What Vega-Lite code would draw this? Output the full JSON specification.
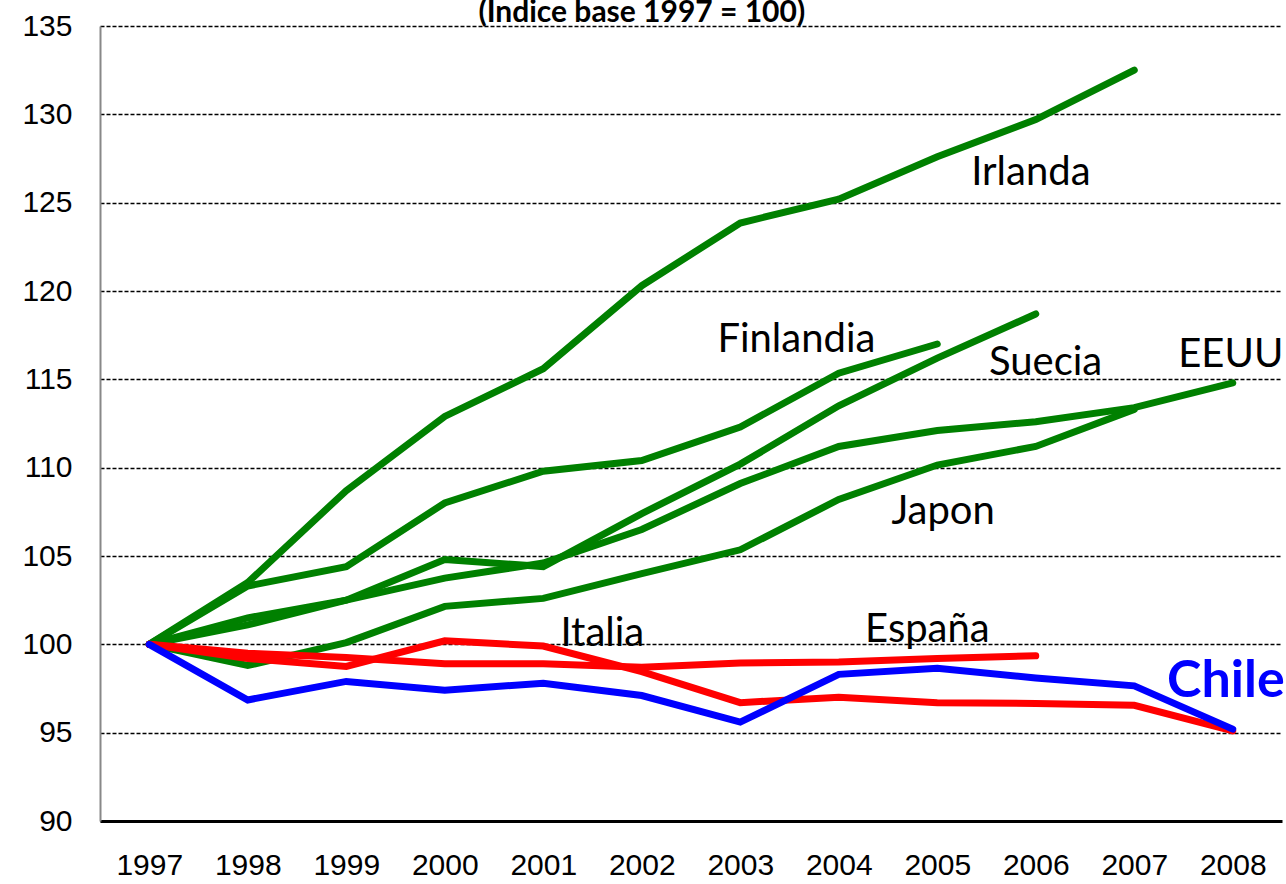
{
  "$schema": "https://vega.github.io/schema/vega-lite/v6.json",
  "width": 1182,
  "height": 795,
  "autosize": "none",
  "padding": {"left": 100, "top": 26, "right": 4, "bottom": 63},
  "background": "white",
  "config": {"view": {"stroke": null}},
  "datasets": {
    "series": [
      {"pais": "Irlanda", "anio": 1997, "valor": 100}, {"pais": "Irlanda", "anio": 1998, "valor": 103.5}, {"pais": "Irlanda", "anio": 1999, "valor": 108.7}, {"pais": "Irlanda", "anio": 2000, "valor": 112.9}, {"pais": "Irlanda", "anio": 2001, "valor": 115.6}, {"pais": "Irlanda", "anio": 2002, "valor": 120.3}, {"pais": "Irlanda", "anio": 2003, "valor": 123.85}, {"pais": "Irlanda", "anio": 2004, "valor": 125.2}, {"pais": "Irlanda", "anio": 2005, "valor": 127.6}, {"pais": "Irlanda", "anio": 2006, "valor": 129.7}, {"pais": "Irlanda", "anio": 2007, "valor": 132.5},
      {"pais": "Finlandia", "anio": 1997, "valor": 100}, {"pais": "Finlandia", "anio": 1998, "valor": 103.3}, {"pais": "Finlandia", "anio": 1999, "valor": 104.4}, {"pais": "Finlandia", "anio": 2000, "valor": 108.0}, {"pais": "Finlandia", "anio": 2001, "valor": 109.8}, {"pais": "Finlandia", "anio": 2002, "valor": 110.4}, {"pais": "Finlandia", "anio": 2003, "valor": 112.3}, {"pais": "Finlandia", "anio": 2004, "valor": 115.35}, {"pais": "Finlandia", "anio": 2005, "valor": 117.0},
      {"pais": "Suecia", "anio": 1997, "valor": 100}, {"pais": "Suecia", "anio": 1998, "valor": 101.5}, {"pais": "Suecia", "anio": 1999, "valor": 102.5}, {"pais": "Suecia", "anio": 2000, "valor": 104.8}, {"pais": "Suecia", "anio": 2001, "valor": 104.4}, {"pais": "Suecia", "anio": 2002, "valor": 107.4}, {"pais": "Suecia", "anio": 2003, "valor": 110.2}, {"pais": "Suecia", "anio": 2004, "valor": 113.5}, {"pais": "Suecia", "anio": 2005, "valor": 116.2}, {"pais": "Suecia", "anio": 2006, "valor": 118.7},
      {"pais": "EEUU", "anio": 1997, "valor": 100}, {"pais": "EEUU", "anio": 1998, "valor": 101.1}, {"pais": "EEUU", "anio": 1999, "valor": 102.5}, {"pais": "EEUU", "anio": 2000, "valor": 103.75}, {"pais": "EEUU", "anio": 2001, "valor": 104.6}, {"pais": "EEUU", "anio": 2002, "valor": 106.5}, {"pais": "EEUU", "anio": 2003, "valor": 109.1}, {"pais": "EEUU", "anio": 2004, "valor": 111.2}, {"pais": "EEUU", "anio": 2005, "valor": 112.1}, {"pais": "EEUU", "anio": 2006, "valor": 112.6}, {"pais": "EEUU", "anio": 2007, "valor": 113.4}, {"pais": "EEUU", "anio": 2008, "valor": 114.8},
      {"pais": "Japon", "anio": 1997, "valor": 100}, {"pais": "Japon", "anio": 1998, "valor": 98.8}, {"pais": "Japon", "anio": 1999, "valor": 100.1}, {"pais": "Japon", "anio": 2000, "valor": 102.15}, {"pais": "Japon", "anio": 2001, "valor": 102.6}, {"pais": "Japon", "anio": 2002, "valor": 104.0}, {"pais": "Japon", "anio": 2003, "valor": 105.35}, {"pais": "Japon", "anio": 2004, "valor": 108.2}, {"pais": "Japon", "anio": 2005, "valor": 110.15}, {"pais": "Japon", "anio": 2006, "valor": 111.2}, {"pais": "Japon", "anio": 2007, "valor": 113.3},
      {"pais": "Italia", "anio": 1997, "valor": 100}, {"pais": "Italia", "anio": 1998, "valor": 99.2}, {"pais": "Italia", "anio": 1999, "valor": 98.75}, {"pais": "Italia", "anio": 2000, "valor": 100.2}, {"pais": "Italia", "anio": 2001, "valor": 99.9}, {"pais": "Italia", "anio": 2002, "valor": 98.45}, {"pais": "Italia", "anio": 2003, "valor": 96.7}, {"pais": "Italia", "anio": 2004, "valor": 97.0}, {"pais": "Italia", "anio": 2005, "valor": 96.7}, {"pais": "Italia", "anio": 2006, "valor": 96.65}, {"pais": "Italia", "anio": 2007, "valor": 96.55}, {"pais": "Italia", "anio": 2008, "valor": 95.1},
      {"pais": "España", "anio": 1997, "valor": 100}, {"pais": "España", "anio": 1998, "valor": 99.5}, {"pais": "España", "anio": 1999, "valor": 99.25}, {"pais": "España", "anio": 2000, "valor": 98.9}, {"pais": "España", "anio": 2001, "valor": 98.9}, {"pais": "España", "anio": 2002, "valor": 98.7}, {"pais": "España", "anio": 2003, "valor": 98.95}, {"pais": "España", "anio": 2004, "valor": 99.0}, {"pais": "España", "anio": 2005, "valor": 99.2}, {"pais": "España", "anio": 2006, "valor": 99.35},
      {"pais": "Chile", "anio": 1997, "valor": 100}, {"pais": "Chile", "anio": 1998, "valor": 96.85}, {"pais": "Chile", "anio": 1999, "valor": 97.9}, {"pais": "Chile", "anio": 2000, "valor": 97.4}, {"pais": "Chile", "anio": 2001, "valor": 97.8}, {"pais": "Chile", "anio": 2002, "valor": 97.1}, {"pais": "Chile", "anio": 2003, "valor": 95.6}, {"pais": "Chile", "anio": 2004, "valor": 98.3}, {"pais": "Chile", "anio": 2005, "valor": 98.65}, {"pais": "Chile", "anio": 2006, "valor": 98.1}, {"pais": "Chile", "anio": 2007, "valor": 97.65}, {"pais": "Chile", "anio": 2008, "valor": 95.2}
    ],
    "etiquetas": [
      {"pais": "Irlanda", "anio": 2005.95, "valor": 126.7},
      {"pais": "Finlandia", "anio": 2003.57, "valor": 117.2},
      {"pais": "Suecia", "anio": 2006.1, "valor": 115.9},
      {"pais": "EEUU", "anio": 2007.98, "valor": 116.4},
      {"pais": "Japon", "anio": 2005.06, "valor": 107.5},
      {"pais": "Italia", "anio": 2001.6, "valor": 100.6},
      {"pais": "España", "anio": 2004.9, "valor": 100.8}
    ],
    "chile": [
      {"pais": "Chile", "anio": 2007.93, "valor": 97.9}
    ],
    "titulo": [
      {"texto": "(Indice base 1997 = 100)", "anio": 2002.0, "valor": 135.22}
    ]
  },
  "encoding": {
    "x": {"field": "anio", "type": "quantitative", "scale": {"domain": [1996.5, 2008.5], "nice": false, "zero": false},
      "axis": {"title": null, "values": [1997,1998,1999,2000,2001,2002,2003,2004,2005,2006,2007,2008], "format": "d", "grid": false, "ticks": false, "labelPadding": 29, "labelFont": "Liberation Sans", "labelFontSize": 30, "labelColor": "black", "domainColor": "black", "domainWidth": 3, "labelBaseline": "top"}},
    "y": {"field": "valor", "type": "quantitative", "scale": {"domain": [90, 135], "nice": false, "zero": false},
      "axis": {"title": null, "values": [90,95,100,105,110,115,120,125,130,135], "ticks": false, "labelPadding": 28, "labelFont": "Liberation Sans", "labelFontSize": 30, "labelColor": "black", "domainColor": "#888888", "domainWidth": 2, "grid": true, "gridColor": "black", "gridDash": [4, 2], "gridWidth": 1.3}}
  },
  "layer": [
    {
      "data": {"name": "series"},
      "transform": [{"filter": "datum.pais != 'Italia' && datum.pais != 'España' && datum.pais != 'Chile'"}],
      "mark": {"type": "line", "strokeWidth": 7, "strokeCap": "round", "strokeJoin": "miter"},
      "encoding": {
        "detail": {"field": "pais", "type": "nominal"},
        "color": {"field": "pais", "type": "nominal", "legend": null, "scale": {"domain": ["Irlanda","Finlandia","Suecia","EEUU","Japon","Italia","España","Chile"], "range": ["#008000","#008000","#008000","#008000","#008000","#ff0000","#ff0000","#0000ff"]}}
      }
    },
    {
      "data": {"name": "series"},
      "transform": [{"filter": "datum.pais == 'Italia' || datum.pais == 'España'"}],
      "mark": {"type": "line", "strokeWidth": 7, "strokeCap": "round", "strokeJoin": "miter"},
      "encoding": {
        "detail": {"field": "pais", "type": "nominal"},
        "color": {"field": "pais", "type": "nominal", "legend": null}
      }
    },
    {
      "data": {"name": "series"},
      "transform": [{"filter": "datum.pais == 'Chile'"}],
      "mark": {"type": "line", "strokeWidth": 7, "strokeCap": "round", "strokeJoin": "miter"},
      "encoding": {
        "detail": {"field": "pais", "type": "nominal"},
        "color": {"field": "pais", "type": "nominal", "legend": null}
      }
    },
    {
      "data": {"name": "etiquetas"},
      "mark": {"type": "text", "font": "Lato", "fontSize": 40, "color": "black", "align": "center", "baseline": "middle"},
      "encoding": {"text": {"field": "pais"}}
    },
    {
      "data": {"name": "chile"},
      "mark": {"type": "text", "font": "Lato", "fontSize": 52, "fontWeight": "bold", "color": "#0000ff", "align": "center", "baseline": "middle"},
      "encoding": {"text": {"field": "pais"}}
    },
    {
      "data": {"name": "titulo"},
      "mark": {"type": "text", "font": "Lato", "fontSize": 30, "fontWeight": "bold", "color": "black", "align": "center", "baseline": "alphabetic"},
      "encoding": {"text": {"field": "texto"}}
    }
  ]
}
